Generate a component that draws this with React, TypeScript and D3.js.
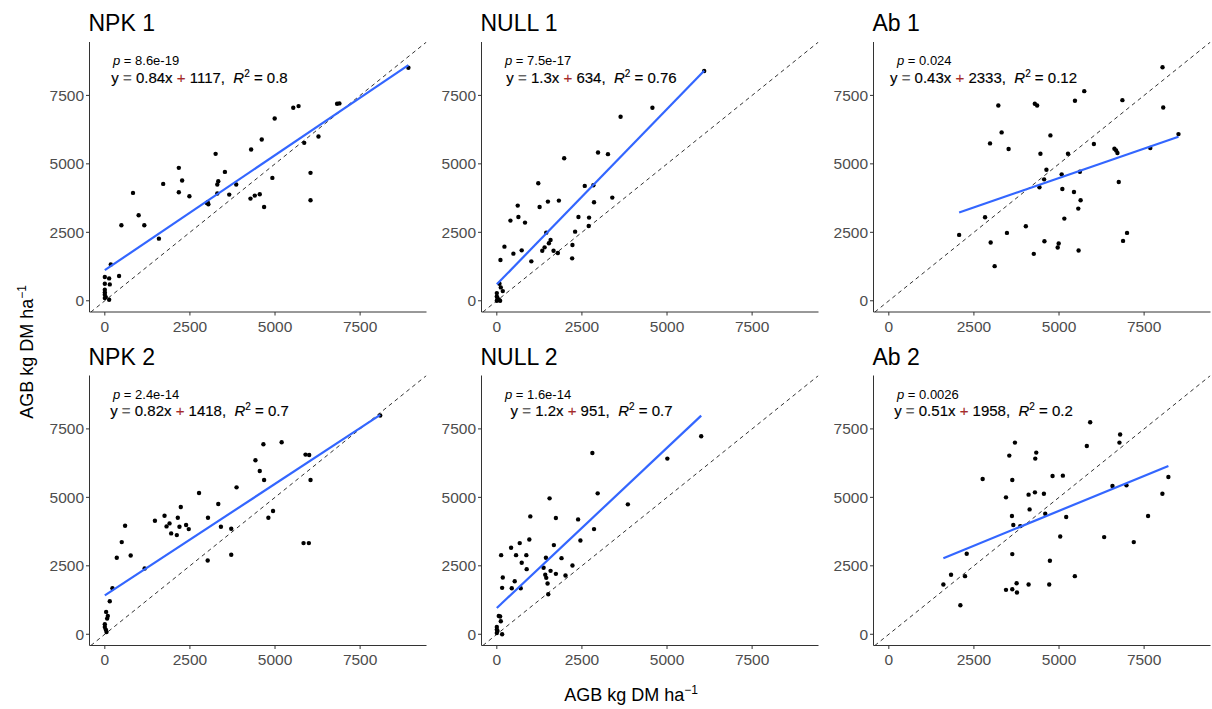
import * as d3 from "d3";

// facet titles and fit labels
const panelTitles = ["NPK 1", "NULL 1", "Ab 1", "NPK 2", "NULL 2", "Ab 2"];
const pLabels = ["8.6e-19", "7.5e-17", "0.024", "2.4e-14", "1.6e-14", "0.0026"];
const slopeLabels = ["0.84", "1.3", "0.43", "0.82", "1.2", "0.51"];
const interceptLabels = ["1117", "634", "2333", "1418", "951", "1958"];
const r2Labels = ["0.8", "0.76", "0.12", "0.7", "0.7", "0.2"];

// fitted lm coefficients (unrounded)
const fitSlopes = [0.84, 1.28, 0.43, 0.815, 1.17, 0.51];
const fitIntercepts = [1117, 600, 2333, 1418, 960, 1958];

const ticks = [0, 2500, 5000, 7500];

// observed (x) vs predicted (y) AGB, one pair of arrays per panel
const npk1X = [8918, 6823, 6891, 5536, 5692, 4990, 4610, 4298, 5858, 6277, 3255, 2174, 2271, 1715, 2174, 2485, 828, 3528, 3333, 3304, 3860, 3304, 3655, 3022, 3042, 2993, 4922, 6043, 6043, 4279, 4406, 4552, 4679, 994, 1160, 487, 1589, 175, 419, 0, 127, 0, 146, 0, 0, 0, 29, 127, 0];
const npk1Y = [8512, 7195, 7207, 7049, 7110, 6659, 5890, 5524, 5768, 6000, 5366, 4854, 4390, 4268, 3963, 3817, 3939, 4707, 4366, 4244, 4244, 3915, 3878, 3598, 3525, 3574, 4488, 4671, 3671, 3732, 3841, 3890, 3427, 3122, 2756, 2756, 2268, 1329, 902, 866, 817, 622, 598, 402, 305, 220, 134, 37, 98];

const null1X = [6092, 4571, 3636, 1979, 2973, 3265, 1218, 2583, 2836, 3392, 2856, 1823, 1501, 1257, 614, 634, 400, 828, 2398, 2710, 2700, 2300, 1452, 1579, 1530, 1404, 1335, 1667, 1793, 2222, 2213, 224, 487, 731, 1014, 107, 78, 117, 175, 0, 0, 19, 58, 0, 97];
const null1Y = [8390, 7049, 6719, 5207, 5415, 5354, 4293, 4195, 4220, 3768, 3598, 3659, 3622, 3427, 3476, 3061, 2927, 2854, 3061, 3037, 2732, 2524, 2488, 2220, 2098, 1951, 1829, 1829, 1744, 2037, 1549, 1976, 1720, 1841, 1439, 1488, 622, 488, 354, 280, 159, 98, 37, 0, 0];

const ab1X = [8041, 8061, 8509, 7681, 6862, 6628, 6677, 6716, 6755, 5741, 5468, 6024, 5263, 5078, 5614, 4747, 4289, 4357, 3217, 3314, 2973, 3519, 4454, 4630, 4562, 4425, 5098, 5439, 5634, 5566, 5156, 4025, 3470, 2827, 2066, 2992, 3109, 4259, 4571, 4990, 4961, 5575, 6881, 6998];
const ab1Y = [8529, 7059, 6087, 5577, 7326, 5553, 5492, 5395, 4338, 7655, 7302, 5723, 5370, 4617, 4714, 6039, 7193, 7132, 7132, 6148, 5747, 5540, 5370, 4787, 4435, 4143, 4082, 3973, 3669, 3366, 3001, 2722, 2479, 3050, 2406, 2126, 1264, 1713, 2175, 2090, 1944, 1835, 2187, 2479];

const npk2X = [8090, 5195, 4659, 4425, 4552, 4679, 5897, 6004, 6043, 5838, 5994, 4942, 4805, 3870, 2768, 3333, 3031, 3411, 3714, 3714, 3022, 2232, 2144, 1754, 1901, 1813, 2193, 2388, 2466, 1949, 2115, 1472, 595, 497, 351, 760, 1170, 224, 146, 39, 88, 68, 0, 0, 29, 49];
const npk2Y = [7988, 7012, 6939, 6354, 5963, 5634, 6561, 6549, 5634, 3329, 3329, 4500, 4256, 5366, 5158, 4756, 4256, 3927, 3854, 2902, 2695, 4646, 4256, 4329, 4049, 3939, 3927, 3988, 3841, 3683, 3622, 4146, 3963, 3366, 2793, 2878, 2402, 1683, 1207, 817, 671, 573, 366, 268, 171, 85];

const null2X = [6004, 5010, 2807, 2963, 3850, 1550, 984, 1735, 2388, 2856, 2456, 955, 673, 419, 565, 867, 127, 1676, 1443, 1901, 731, 877, 1374, 2222, 1579, 1735, 2018, 1423, 1452, 1491, 1511, 175, 526, 156, 439, 702, 58, 97, 117, 0, 0, 19, 0, 156];
const null2Y = [7232, 6415, 6622, 5146, 4744, 4963, 4305, 4244, 4195, 3841, 3427, 3463, 3329, 3159, 2890, 2890, 2890, 3256, 2793, 2780, 2610, 2378, 2427, 2512, 2317, 2207, 2146, 2171, 2061, 1854, 1463, 2073, 1939, 1695, 1683, 1683, 671, 647, 476, 268, 171, 122, 49, 0];

const ab2X = [5915, 6795, 6775, 5817, 8213, 8037, 7616, 6981, 6570, 7196, 6326, 3705, 3539, 4331, 4302, 2757, 3627, 4810, 5113, 3442, 4106, 4292, 4556, 4136, 4595, 5211, 3617, 3657, 3862, 5035, 3627, 4732, 2288, 1828, 2239, 1603, 2102, 3442, 3627, 3764, 3754, 4106, 4712, 5465];
const ab2Y = [7744, 7293, 7000, 6878, 5744, 5134, 4317, 5439, 5415, 3366, 3549, 7000, 6524, 6634, 6415, 5671, 5634, 5780, 5793, 5000, 5098, 5183, 5134, 4561, 4402, 4280, 4317, 3988, 3951, 3573, 2927, 2683, 2939, 2171, 2122, 1817, 1061, 1622, 1646, 1524, 1866, 1817, 1817, 2122];

const panelX = [npk1X, null1X, ab1X, npk2X, null2X, ab2X];
const panelY = [npk1Y, null1Y, ab1Y, npk2Y, null2Y, ab2Y];

// layout
const width = 1212;
const height = 709;
const colLeft = [89.5, 481.5, 873.5];
const rowTop = [42, 375.5];
const panelW = 337;
const panelH = 270;
const font = "'Liberation Sans', Arial, sans-serif";
const nbsp = "\u00A0";

const x = d3.scaleLinear().domain([-450, 9450]).range([0, panelW]);
const y = d3.scaleLinear().domain([-410, 9450]).range([panelH, 0]);

function Panel({ i }: { i: number }) {
  const xs = panelX[i];
  const ys = panelY[i];
  const left = colLeft[i % 3];
  const top = rowTop[Math.floor(i / 3)];
  const [x0, x1] = d3.extent(xs) as [number, number];
  const fit = d3.line<number>()
    .x(d => x(d))
    .y(d => y(fitSlopes[i] * d + fitIntercepts[i]));
  const clipId = `clip-${i}`;
  const lo = Math.max(x.domain()[0], y.domain()[0]);
  const hi = Math.min(x.domain()[1], y.domain()[1]);

  return (
    <g transform={`translate(${left},${top})`} fontFamily={font}>
      <defs>
        <clipPath id={clipId}>
          <rect x={0} y={0} width={panelW} height={panelH} />
        </clipPath>
      </defs>

      {/* title */}
      <text x={-1} y={-11} fontSize={23} fill="#000">{panelTitles[i]}</text>

      {/* 1:1 line */}
      <line
        x1={x(lo)} y1={y(lo)} x2={x(hi)} y2={y(hi)}
        stroke="#333" strokeWidth={1} strokeDasharray="4 3.5"
        clipPath={`url(#${clipId})`}
      />

      {/* points */}
      <g fill="#000">
        {xs.map((d, k) => (
          <circle key={k} cx={x(d)} cy={y(ys[k])} r={2.2} />
        ))}
      </g>

      {/* lm fit */}
      <path d={fit([x0, x1]) ?? ""} fill="none" stroke="#3366FF" strokeWidth={2.2} />

      {/* axes */}
      <g stroke="#333" strokeWidth={1}>
        <line x1={0} y1={0} x2={0} y2={panelH} />
        <line x1={0} y1={panelH} x2={panelW} y2={panelH} />
        {ticks.map(t => (
          <line key={"yt" + t} x1={-3.5} x2={0} y1={y(t)} y2={y(t)} />
        ))}
        {ticks.map(t => (
          <line key={"xt" + t} x1={x(t)} x2={x(t)} y1={panelH} y2={panelH + 3.5} />
        ))}
      </g>
      <g fill="#4D4D4D" fontSize={15.5}>
        {ticks.map(t => (
          <text key={"yl" + t} x={-5.5} y={y(t)} dy="0.36em" textAnchor="end">{t}</text>
        ))}
        {ticks.map(t => (
          <text key={"xl" + t} x={x(t)} y={panelH + 19.5} textAnchor="middle">{t}</text>
        ))}
      </g>

      {/* stats */}
      <text x={23.5} y={23} fontSize={13} fill="#000">
        <tspan fontStyle="italic">p</tspan>{" = " + pLabels[i]}
      </text>
      <text
        x={110} y={40.7} fontSize={15} fill="#000" textAnchor="middle"
        stroke="#000" strokeWidth={0.15}
      >
        <tspan>y</tspan>
        <tspan fill="#666" stroke="#666">{" = "}</tspan>
        <tspan>{slopeLabels[i] + "x"}</tspan>
        <tspan fill="#a52a2a" stroke="#a52a2a">{" + "}</tspan>
        <tspan>{interceptLabels[i] + "," + nbsp + nbsp}</tspan>
        <tspan fontStyle="italic">R</tspan>
        <tspan fontSize={10} dy={-6}>2</tspan>
        <tspan dy={6}>{" = " + r2Labels[i]}</tspan>
      </text>
    </g>
  );
}

export default function App() {
  return (
    <svg
      width={width}
      height={height}
      style={{ position: "absolute", left: 0, top: 0, background: "#fff" }}
    >
      <rect width={width} height={height} fill="#fff" />
      {panelTitles.map((_, i) => <Panel key={i} i={i} />)}

      {/* shared axis titles */}
      <text
        transform="translate(33,352) rotate(-90)"
        textAnchor="middle" fontFamily={font} fontSize={18} fill="#000"
      >
        AGB kg DM ha<tspan fontSize={12} dy={-7}>−1</tspan>
      </text>
      <text x={631} y={700.5} textAnchor="middle" fontFamily={font} fontSize={18} fill="#000">
        AGB kg DM ha<tspan fontSize={12} dy={-7}>−1</tspan>
      </text>
    </svg>
  );
}
